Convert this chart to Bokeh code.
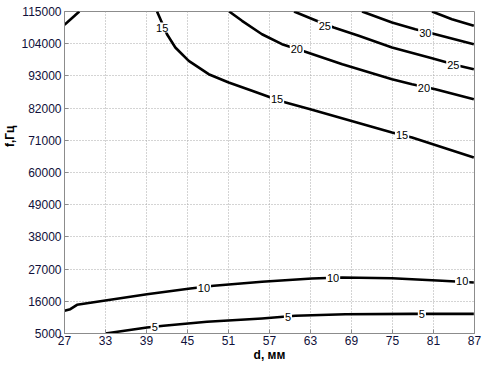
from bokeh.plotting import figure
from bokeh.models import Range1d, FixedTicker, ColumnDataSource, Title
from bokeh.embed import file_html
from bokeh.resources import INLINE
from bokeh.core.properties import value

# ---- data ----
x_ticks = [27, 33, 39, 45, 51, 57, 63, 69, 75, 81, 87]
y_ticks = [5000, 16000, 27000, 38000, 49000, 60000, 71000, 82000, 93000, 104000, 115000]

c5_x = [32.97, 39.07, 41.5, 47.85, 55.9, 60.78, 68.1, 77.86, 86.9]
c5_y = [5000, 7050, 7630, 9000, 10120, 11050, 11590, 11700, 11700]

c10_x = [27.0, 27.85, 28.83, 33.22, 39.07, 45.41, 48.84, 55.9, 63.22, 67.61, 74.93, 82.25, 86.9]
c10_y = [12750, 13300, 14800, 16380, 18430, 20370, 21290, 22660, 23790, 24130, 23890, 23000, 22420]

c15_x = [40.54, 42.0, 43.22, 45.18, 48.1, 51.03, 54.44, 56.88, 58.83, 62.97, 74.93, 77.86, 86.9]
c15_y = [115000, 107240, 102700, 98150, 93580, 90740, 87910, 85860, 84250, 81620, 73660, 71950, 65120]

c20_x = [51.1, 52.98, 55.9, 58.83, 62.24, 67.66, 74.93, 77.86, 81.27, 86.9]
c20_y = [115000, 111820, 107240, 103830, 101230, 96990, 91870, 90160, 88450, 85040]

c25_x = [60.59, 63.7, 66.4, 70.06, 74.93, 80.78, 84.69, 86.9]
c25_y = [115000, 112020, 109530, 106700, 102700, 99040, 96450, 95290]

c30_x = [70.54, 74.93, 78.34, 81.27, 86.9]
c30_y = [115000, 111240, 108950, 107240, 103830]

c35_x = [80.78, 83.7, 86.9]
c35_y = [115000, 112370, 110110]

cTL_x = [27.0, 29.17]
cTL_y = [110450, 115000]

lab_x = [40.2, 59.7, 79.3, 47.4, 66.3, 85.2, 41.3, 58.1, 76.4, 61.0, 79.6, 65.1, 83.9, 79.8]
lab_y = [7050, 10470, 11830, 20710, 23790, 23100, 109530, 84940, 72640, 102020, 89030, 110210, 96890, 107820]
lab_t = ["5", "5", "5", "10", "10", "10", "15", "15", "15", "20", "20", "25", "25", "30"]

FONT = "Liberation Sans"

p = figure(width=483, height=364, output_backend="svg", toolbar_location=None,
           x_range=Range1d(27, 87), y_range=Range1d(5000, 115000),
           min_border_left=64, min_border_right=9, min_border_top=11, min_border_bottom=31)

p.outline_line_color = "#8c8c8c"
p.outline_line_width = 1

for ax in (p.xaxis[0], p.yaxis[0]):
    ax.axis_line_color = "#8c8c8c"
    ax.major_tick_line_color = "#8c8c8c"
    ax.major_tick_in = 4
    ax.major_tick_out = 0
    ax.minor_tick_line_color = None
    ax.major_label_text_font = FONT
    ax.major_label_text_font_size = "12px"
    ax.major_label_text_color = "#10103a"
    ax.axis_label_text_font = FONT
    ax.axis_label_text_font_size = "12px"
    ax.axis_label_text_font_style = "bold"
    ax.axis_label_text_color = "black"

p.xaxis.ticker = FixedTicker(ticks=x_ticks)
p.yaxis.ticker = FixedTicker(ticks=y_ticks)
p.xaxis.major_label_overrides = {t: str(t) for t in x_ticks}
p.yaxis.major_label_overrides = {t: str(t) for t in y_ticks}
p.xaxis.axis_label = "d, мм"
p.xaxis.major_label_standoff = 2
p.xaxis.axis_label_standoff = 0
p.yaxis.major_label_standoff = 3

# y-axis label placed above centre, as in the reference
ylab = Title(text="f,Гц", align="right", offset=114, standoff=1,
             text_font=FONT, text_font_size="12px", text_font_style="bold",
             text_color="black", vertical_align="middle")
p.add_layout(ylab, "left")

p.xgrid.ticker = FixedTicker(ticks=x_ticks)
p.ygrid.ticker = FixedTicker(ticks=y_ticks)
for g in (p.xgrid[0], p.ygrid[0]):
    g.grid_line_color = "#a8a8a8"
    g.grid_line_dash = "1 2"
    g.grid_line_width = 1

for xs, ys in [(c5_x, c5_y), (c10_x, c10_y), (c15_x, c15_y), (c20_x, c20_y),
               (c25_x, c25_y), (c30_x, c30_y), (c35_x, c35_y), (cTL_x, cTL_y)]:
    p.line(xs, ys, line_color="black", line_width=2.6, line_join="round")

src = ColumnDataSource(dict(x=lab_x, y=lab_y, t=lab_t))
p.text(x="x", y="y", text="t", source=src, text_font=value(FONT),
       text_font_size="11px", text_align="center", text_baseline="middle",
       text_color="black", background_fill_color="white", padding=1)

open("out.html", "w").write(file_html(p, INLINE))
